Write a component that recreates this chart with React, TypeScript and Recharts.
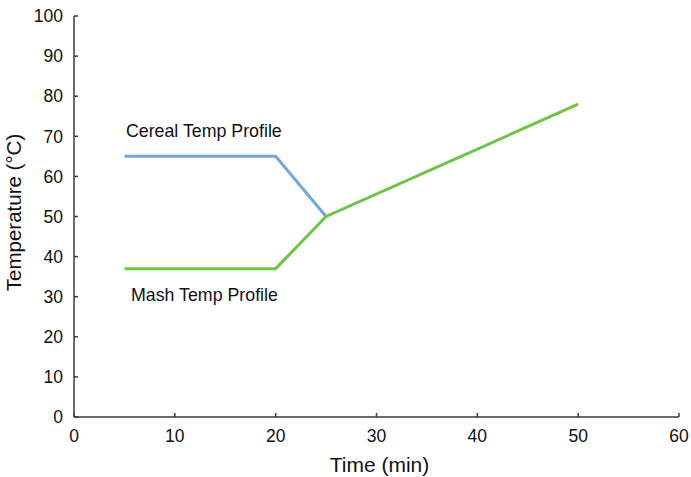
import { LineChart, Line, XAxis, YAxis, ReferenceDot } from 'recharts'

const cereal = [
  { t: 5, temp: 65 },
  { t: 20, temp: 65 },
  { t: 25, temp: 50 },
]
const mash = [
  { t: 5, temp: 37 },
  { t: 20, temp: 37 },
  { t: 25, temp: 50 },
  { t: 50, temp: 78 },
]
const xTicks = [0, 10, 20, 30, 40, 50, 60]
const yTicks = [0, 10, 20, 30, 40, 50, 60, 70, 80, 90, 100]
const labels = [
  { t: 5.15, temp: 69.8, text: 'Cereal Temp Profile' },
  { t: 5.65, temp: 28.9, text: 'Mash Temp Profile' },
]

const FONT = 'Liberation Sans, Arial, Helvetica, sans-serif'
const AXIS = '#3a3a3a'

export default function App() {
  return (
    <div style={{ position: 'absolute', left: 0, top: 0, background: '#fff', fontFamily: FONT }}>
      <LineChart width={691} height={477} margin={{ top: 16, right: 12, left: 14, bottom: 30 }}>
        <XAxis
          type="number"
          dataKey="t"
          domain={[0, 60]}
          ticks={xTicks}
          allowDuplicatedCategory={false}
          height={30}
          tickSize={-4}
          tickMargin={17}
          stroke={AXIS}
          strokeWidth={1.5}
          tick={{ fontSize: 17.5, fill: '#111', fontFamily: FONT }}
          label={{ value: 'Time (min)', position: 'insideBottom', offset: -25, dx: 3, fontSize: 21, fill: '#111', fontFamily: FONT }}
        />
        <YAxis
          type="number"
          dataKey="temp"
          domain={[0, 100]}
          ticks={yTicks}
          width={60}
          tickSize={-4}
          tickMargin={15}
          stroke={AXIS}
          strokeWidth={1.5}
          tick={{ fontSize: 17.5, fill: '#111', fontFamily: FONT }}
          label={{ value: 'Temperature (°C)', angle: -90, position: 'insideLeft', offset: 0, dy: -4, fontSize: 20.5, fill: '#111', fontFamily: FONT, style: { textAnchor: 'middle' } }}
        />
        <Line data={cereal} dataKey="temp" stroke="#72A8DF" strokeWidth={3} dot={false} isAnimationActive={false} />
        <Line data={mash} dataKey="temp" stroke="#6CC644" strokeWidth={3} dot={false} isAnimationActive={false} />
        {labels.map((l) => (
          <ReferenceDot
            key={l.text}
            x={l.t}
            y={l.temp}
            r={0}
            stroke="none"
            fill="none"
            label={(props: any) => (
              <text x={props.viewBox.x} y={props.viewBox.y} fontSize={17.8} fill="#111" fontFamily={FONT}>
                {l.text}
              </text>
            )}
          />
        ))}
      </LineChart>
    </div>
  )
}
